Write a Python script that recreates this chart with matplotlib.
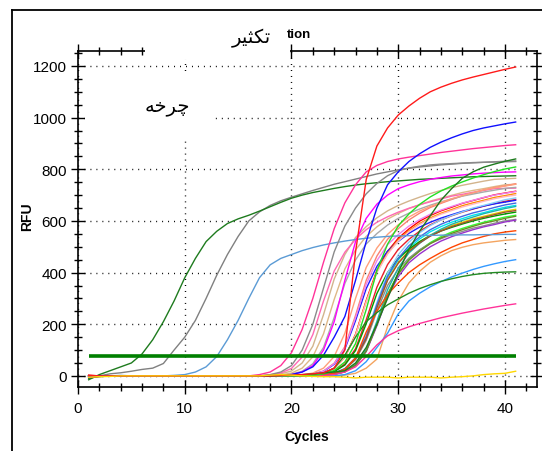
import matplotlib
matplotlib.use("Agg")
import matplotlib.pyplot as plt
from matplotlib.ticker import MultipleLocator
from matplotlib.patches import Rectangle
from matplotlib.lines import Line2D
from matplotlib import font_manager

# --- data: RFU per cycle (cycles 1..41) ---
CYCLES = list(range(1, 42))
THRESHOLD = 78

EARLY_GREEN = [-15, 5, 20, 35, 50, 85, 140, 210, 290, 380,
               455, 520, 560, 590, 608, 622, 638, 655, 672, 688,
               700, 710, 718, 726, 733, 739, 744, 748, 752, 755,
               758, 761, 763, 765, 767, 769, 771, 772, 773, 774, 775]
EARLY_GRAY = [-10, 0, 8, 12, 18, 25, 30, 48, 100, 150,
              215, 300, 390, 470, 540, 600, 635, 660, 678, 692,
              705, 718, 730, 742, 752, 762, 772, 782, 790, 798,
              804, 809, 813, 817, 820, 823, 825, 827, 829, 831, 832]
EARLY_STEEL = [-5, 0, 0, 2, 0, 0, 0, 0, 2, 5,
               15, 35, 75, 140, 215, 300, 380, 430, 455, 470,
               485, 497, 507, 515, 522, 528, 533, 537, 540, 542,
               543, 544, 544, 545, 545, 546, 546, 547, 547, 548, 548]
HIGH_RED = [2, 0, 0, 0, 0, 0, 0, 0, 0, 0,
            0, 0, 0, 0, 0, 0, 0, 0, 2, 3,
            5, 8, 12, 30, 100, 480, 760, 890, 960, 1010,
            1045, 1075, 1100, 1118, 1133, 1146, 1157, 1167, 1177, 1187, 1196]
HIGH_BLUE = [0, 0, 0, 0, 0, 0, 0, 0, 0, 0,
             0, 0, 0, 0, 0, 0, 0, 2, 3, 5,
             15, 35, 80, 150, 230, 370, 520, 650, 740, 790,
             830, 860, 885, 905, 922, 937, 950, 960, 968, 976, 983]
HOT_PINK = [-5, -2, 0, 0, 0, 0, 0, 0, 0, 0,
            0, 0, 0, 0, 0, 0, 5, 15, 40, 90,
            180, 300, 440, 570, 670, 740, 790, 815, 830, 840,
            847, 853, 859, 865, 870, 875, 880, 884, 888, 892, 895]
LATE_GREEN = [-8, -3, 0, 0, 0, 0, 0, 0, 0, 0,
              0, 0, 0, 0, 0, 0, 0, 0, 2, 3,
              5, 8, 12, 15, 20, 50, 110, 200, 300, 400,
              490, 560, 620, 680, 725, 765, 790, 808, 820, 831, 840]
LIME = [0, 0, 0, 0, 0, 0, 0, 0, 0, 0,
        0, 0, 0, 0, 0, 0, 0, 0, 0, 0,
        0, 2, 8, 21, 54, 125, 257, 407, 510, 581,
        627, 664, 693, 716, 735, 751, 766, 779, 791, 801, 809]
MAGENTA = [0, 0, 0, 0, 0, 0, 0, 0, 0, 0,
           0, 0, 0, 0, 0, 0, 0, 0, 0, 5,
           15, 40, 100, 210, 370, 520, 610, 665, 700, 725,
           740, 752, 761, 768, 774, 778, 782, 785, 787, 789, 790]
MID_GRAY = [0, 0, 0, 0, 0, 0, 0, 0, 0, 0,
            0, 0, 0, 0, 0, 0, 0, 5, 15, 40,
            100, 200, 340, 480, 580, 650, 705, 745, 775, 795,
            805, 812, 817, 820, 822, 824, 826, 827, 828, 829, 830]
ORANGE_RED = [0, 0, 0, 0, 0, 0, 0, 0, 0, 0,
              0, 0, 0, 0, 0, 0, 0, 0, 0, 0,
              0, 0, 3, 10, 25, 70, 170, 250, 315, 360,
              400, 430, 455, 478, 498, 515, 528, 540, 550, 557, 562]
PEACH = [0, 0, 0, 0, 0, 0, 0, 0, 0, 0,
         0, 0, 0, 0, 0, 0, 0, 0, 0, 0,
         0, 0, 0, 0, 3, 10, 30, 65, 190, 290,
         360, 405, 440, 465, 485, 498, 508, 515, 520, 525, 528]
DODGER = [0, 0, 0, 0, 0, 0, 0, 0, 0, 0,
          0, 0, 0, 0, 0, 0, 0, 0, 0, 0,
          0, 0, 0, 0, 5, 20, 55, 110, 165, 240,
          290, 320, 345, 365, 383, 398, 412, 424, 434, 443, 450]
LOW_GREEN = [0, 0, 0, 0, 0, 0, 0, 0, 0, 0,
             0, 0, 0, 0, 0, 0, 0, 0, 0, 0,
             0, 3, 10, 30, 80, 150, 210, 245, 275, 298,
             320, 338, 353, 366, 376, 385, 392, 397, 400, 402, 403]
LOW_PINK = [0, 0, 0, 0, 0, 0, 0, 0, 0, 0,
            0, 0, 0, 0, 0, 0, 0, 0, 0, 0,
            0, 0, 2, 5, 15, 35, 75, 120, 155, 175,
            190, 203, 214, 225, 234, 243, 251, 259, 266, 273, 279]
YELLOW_FLAT = [-5, -3, -2, 0, 0, 0, 0, 0, 0, 0,
               0, 0, 0, 0, 0, 0, 0, 3, 5, 3,
               0, -2, -3, -3, -5, -8, -5, -5, -5, -8,
               -5, -5, -5, -8, -5, -3, 0, 5, 8, 10, 18]

# main cluster
TAN_1 = [0, 0, 0, 0, 0, 0, 0, 0, 0, 0,
         0, 0, 0, 0, 0, 0, 0, 2, 8, 19,
         50, 115, 237, 375, 470, 536, 578, 612, 639, 660,
         677, 692, 706, 718, 729, 738, 746, 754, 761, 763, 765]
TAN_2 = [0, 0, 0, 0, 0, 0, 0, 0, 0, 0,
         0, 0, 0, 0, 0, 0, 0, 0, 4, 11,
         30, 74, 163, 296, 414, 488, 540, 577, 607, 629,
         648, 662, 677, 688, 699, 710, 718, 725, 733, 740, 742]
SALMON = [0, 0, 0, 0, 0, 0, 0, 0, 0, 0,
          0, 0, 0, 0, 0, 0, 0, 0, 0, 0,
          2, 8, 19, 49, 113, 234, 370, 464, 529, 570,
          604, 630, 652, 668, 683, 697, 708, 720, 729, 736, 744]
PINK = [-6, -2, 0, 0, 0, 0, 0, 0, 0, 0,
        0, 0, 0, 0, 0, 0, 0, 4, 11, 29,
        73, 160, 290, 406, 479, 529, 566, 595, 616, 634,
        649, 663, 674, 685, 696, 703, 711, 718, 725, 726, 727]
GRAY_2 = [0, 0, 0, 0, 0, 0, 0, 0, 0, 0,
          0, 0, 0, 0, 0, 0, 0, 0, 1, 7,
          18, 47, 110, 226, 358, 449, 511, 551, 584, 610,
          630, 646, 661, 674, 685, 696, 704, 712, 719, 726, 730]
RED_2 = [0, 0, 0, 0, 0, 0, 0, 0, 0, 0,
         0, 0, 0, 0, 0, 0, 0, 0, 0, 0,
         0, 4, 11, 29, 73, 161, 292, 409, 482, 533,
         569, 599, 621, 639, 653, 668, 679, 690, 701, 708, 715]
RED_3 = [3, 0, 0, 0, 0, 0, 0, 0, 0, 0,
         0, 0, 0, 0, 0, 0, 0, 0, 0, 0,
         0, 1, 7, 18, 46, 105, 217, 343, 431, 490,
         529, 560, 585, 604, 620, 634, 646, 657, 667, 676, 683]
BLUE_2 = [0, 0, 0, 0, 0, 0, 0, 0, 0, 0,
          0, 0, 0, 0, 0, 0, 0, 0, 0, 0,
          1, 7, 17, 45, 104, 214, 338, 424, 483, 521,
          552, 576, 595, 611, 624, 637, 647, 658, 666, 673, 680]
CYAN = [0, 0, 0, 0, 0, 0, 0, 0, 0, 0,
        0, 0, 0, 0, 0, 0, 0, 0, 0, 0,
        0, 0, 3, 10, 27, 68, 150, 272, 381, 449,
        496, 530, 558, 578, 595, 609, 622, 632, 643, 653, 660]
YELLOW_2 = [0, 0, 0, 0, 0, 0, 0, 0, 0, 0,
            0, 0, 0, 0, 0, 0, 0, 0, 0, 0,
            0, 0, 3, 10, 27, 67, 146, 266, 372, 439,
            485, 519, 545, 565, 582, 595, 608, 618, 628, 638, 645]
GREEN_2 = [-4, 0, 0, 0, 0, 0, 0, 0, 0, 0,
           0, 0, 0, 0, 0, 0, 0, 0, 0, 0,
           0, 1, 7, 16, 42, 98, 202, 319, 400, 455,
           491, 520, 543, 561, 575, 588, 600, 610, 619, 627, 634]
LIME_2 = [0, 0, 0, 0, 0, 0, 0, 0, 0, 0,
          0, 0, 0, 0, 0, 0, 0, 0, 0, 0,
          0, 0, 1, 6, 16, 42, 97, 200, 316, 397,
          452, 487, 516, 539, 557, 571, 584, 595, 605, 615, 622]
GRAY_3 = [0, 0, 0, 0, 0, 0, 0, 0, 0, 0,
          0, 0, 0, 0, 0, 0, 0, 0, 0, 0,
          0, 0, 3, 9, 25, 63, 138, 250, 350, 413,
          456, 488, 513, 531, 547, 559, 572, 581, 591, 600, 606]
PURPLE = [0, 0, 0, 0, 0, 0, 0, 0, 0, 0,
          0, 0, 0, 0, 0, 0, 0, 0, 0, 0,
          0, 0, 1, 6, 16, 41, 94, 194, 306, 384,
          438, 472, 500, 522, 539, 553, 566, 577, 586, 596, 603]
LIGHT_BLUE = [0, 0, 0, 0, 0, 0, 0, 0, 0, 0,
              0, 0, 0, 0, 0, 0, 0, 0, 0, 0,
              0, 0, 4, 11, 28, 71, 156, 284, 398, 469,
              518, 554, 582, 604, 621, 635, 650, 660, 671, 682, 689]
ORANGE = [0, 0, 0, 0, 0, 0, 0, 0, 0, 0,
          0, 0, 0, 0, 0, 0, 0, 0, 0, 0,
          0, 4, 11, 29, 72, 158, 288, 403, 475, 526,
          562, 590, 612, 630, 644, 659, 670, 680, 691, 698, 706]
TEAL = [0, 0, 0, 0, 0, 0, 0, 0, 0, 0,
        0, 0, 0, 0, 0, 0, 0, 0, 0, 0,
        0, 0, 1, 7, 17, 44, 102, 211, 333, 418,
        476, 513, 544, 568, 587, 602, 615, 628, 638, 648, 656]
LIGHT_PINK = [0, 0, 0, 0, 0, 0, 0, 0, 0, 0,
              0, 0, 0, 0, 0, 0, 0, 0, 0, 0,
              0, 4, 11, 29, 72, 157, 286, 400, 472, 522,
              558, 586, 608, 626, 640, 654, 665, 676, 686, 694, 700]
ROYAL_BLUE = [0, 0, 0, 0, 0, 0, 0, 0, 0, 0,
              0, 0, 0, 0, 0, 0, 0, 0, 0, 0,
              0, 0, 3, 10, 28, 69, 152, 276, 386, 455,
              504, 538, 566, 587, 604, 618, 631, 641, 652, 662, 669]
SIENNA = [0, 0, 0, 0, 0, 0, 0, 0, 0, 0,
          0, 0, 0, 0, 0, 0, 0, 0, 0, 0,
          0, 0, 3, 10, 26, 66, 145, 264, 370, 436,
          482, 515, 541, 561, 578, 591, 604, 614, 624, 634, 640]
OLIVE = [0, 0, 0, 0, 0, 0, 0, 0, 0, 0,
         0, 0, 0, 0, 0, 0, 0, 0, 0, 0,
         0, 0, 1, 6, 16, 42, 96, 198, 314, 394,
         448, 483, 512, 534, 552, 566, 579, 591, 600, 610, 618]
LIGHT_SALMON = [0, 0, 0, 0, 0, 0, 0, 0, 0, 0,
                0, 0, 0, 0, 0, 0, 0, 0, 0, 0,
                4, 11, 30, 75, 165, 300, 420, 495, 548, 585,
                615, 638, 656, 671, 686, 698, 709, 720, 728, 735, 742]
VIOLET = [0, 0, 0, 0, 0, 0, 0, 0, 0, 0,
          0, 0, 0, 0, 0, 0, 0, 0, 0, 0,
          1, 7, 18, 47, 109, 225, 355, 446, 508, 547,
          580, 605, 626, 642, 656, 669, 680, 691, 700, 707, 714]

TITLE_FA = "\ufeae\ufbff\ufe9c\ufb91\ufe97"   # تکثیر (visual order)
CYCLE_FA = "\ufeea\ufea7\ufeae\ufb7c"         # چرخه (visual order)

# drawing order: cluster first, special curves on top
CURVES = [
    (TAN_1, "#d2b48c"), (TAN_2, "#deb887"), (SALMON, "#fa8072"),
    (PINK, "#ff69b4"), (GRAY_2, "#a9a9a9"), (RED_2, "#ff0000"),
    (RED_3, "#e8202a"), (BLUE_2, "#1c1cff"), (CYAN, "#00e5ee"),
    (YELLOW_2, "#e8d000"), (GREEN_2, "#009900"), (LIME_2, "#33ff33"),
    (GRAY_3, "#8c8c8c"), (PURPLE, "#9932cc"), (LIGHT_BLUE, "#87cefa"),
    (ORANGE, "#ff8c00"), (TEAL, "#20b2aa"), (LIGHT_PINK, "#ffb6c1"),
    (ROYAL_BLUE, "#4169e1"), (SIENNA, "#a0522d"), (OLIVE, "#6b8e23"),
    (LIGHT_SALMON, "#ffa07a"), (VIOLET, "#ee82ee"),
    (ORANGE_RED, "#ff4500"), (PEACH, "#f4a460"), (DODGER, "#3399ff"),
    (LOW_GREEN, "#228b22"), (LOW_PINK, "#ff3399"),
    (EARLY_STEEL, "#5b9bd5"), (EARLY_GRAY, "#808080"), (EARLY_GREEN, "#1e7b1e"),
    (MID_GRAY, "#8a8a8a"), (MAGENTA, "#ff00ff"), (LIME, "#22e022"),
    (LATE_GREEN, "#1e7b1e"), (HOT_PINK, "#ff3399"), (HIGH_BLUE, "#1010ff"),
    (HIGH_RED, "#ff1a1a"), (YELLOW_FLAT, "#ffd700"),
]

names = {f.name for f in font_manager.fontManager.ttflist}
NARROW = "Liberation Sans Narrow" if "Liberation Sans Narrow" in names else "Liberation Sans"
plt.rcParams["font.family"] = [NARROW, "DejaVu Sans"]

W, H = 542, 452
fig = plt.figure(figsize=(W / 100, H / 100), dpi=100, facecolor="white")
ax = fig.add_axes([78 / W, (H - 388) / H, 459 / W, 336 / H])
ax.set_xlim(0, 43)
ax.set_ylim(-43, 1258)

for vals, col in CURVES:
    ax.plot(CYCLES, vals, color=col, lw=1.0, zorder=3)

ax.hlines(THRESHOLD, CYCLES[0], CYCLES[-1], color="#008000", lw=2.6, zorder=6)

ax.xaxis.set_major_locator(MultipleLocator(10))
ax.xaxis.set_minor_locator(MultipleLocator(2))
ax.yaxis.set_major_locator(MultipleLocator(200))
ax.yaxis.set_minor_locator(MultipleLocator(50))
ax.tick_params(which="major", direction="inout", length=10, width=1,
               top=True, right=True, labelsize=11, colors="black")
ax.tick_params(which="minor", direction="inout", length=6, width=1,
               top=True, right=True)
ax.tick_params(axis="x", pad=5)
ax.tick_params(axis="y", pad=3)
ax.grid(True, which="major", color="black", lw=1.0, linestyle=(0, (0.7, 3.6)))
for sp in ax.spines.values():
    sp.set_linewidth(1.2)

# white patches covering the spine / grid behind the persian labels
fig.add_artist(Rectangle((145 / W, 1 - 60 / H), 145 / W, 40 / H,
                         transform=fig.transFigure, fc="white", ec="none", zorder=5))
fig.add_artist(Rectangle((85 / W, 1 - 142 / H), 127 / W, 70 / H,
                         transform=fig.transFigure, fc="white", ec="none", zorder=5))

# outer frame (top / left)
fig.add_artist(Line2D([12 / W, 12 / W], [0, 1 - 11 / H], transform=fig.transFigure,
                      color="black", lw=1.3))
fig.add_artist(Line2D([12 / W, 1], [1 - 11 / H, 1 - 11 / H], transform=fig.transFigure,
                      color="black", lw=1.3))

fig.text(251 / W, 1 - 38 / H, TITLE_FA, ha="center", va="center", fontsize=14,
         family="DejaVu Sans", zorder=6)
fig.text(299 / W, 1 - 35 / H, "tion", ha="center", va="center", fontsize=9.5,
         fontweight="bold", zorder=6)
fig.text(167 / W, 1 - 107 / H, CYCLE_FA, ha="center", va="center", fontsize=14,
         family="DejaVu Sans", zorder=6)
fig.text(307 / W, 1 - 437 / H, "Cycles", ha="center", va="center", fontsize=10,
         fontweight="bold")
fig.text(27 / W, 1 - 217 / H, "RFU", ha="center", va="center", fontsize=10,
         fontweight="bold", rotation=90)

fig.savefig("out.png", dpi=100, facecolor="white")
